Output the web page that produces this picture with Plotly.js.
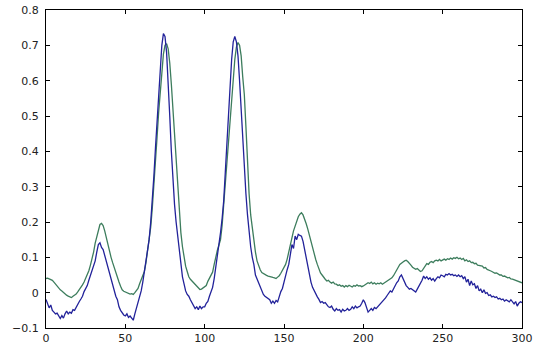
<!DOCTYPE html>
<html>
<head>
<meta charset="utf-8">
<script src="https://cdn.plot.ly/plotly-3.0.1.min.js"></script>
<style>
html,body{margin:0;padding:0;background:#fff;}
#chart{width:533px;height:347px;}
</style>
</head>
<body>
<div id="chart"></div>
<script>
// Series values at x = 0..300 (index)
var blueSeries = [
-0.019,-0.03,-0.043,-0.035,-0.05,-0.055,-0.06,-0.058,-0.068,-0.073,
-0.065,-0.072,-0.06,-0.052,-0.06,-0.055,-0.058,-0.048,-0.05,-0.04,
-0.033,-0.025,-0.018,-0.01,0.003,0.01,0.02,0.035,0.05,0.06,
0.075,0.09,0.115,0.136,0.141,0.128,0.122,0.105,0.09,0.072,
0.056,0.04,0.025,0.01,-0.01,-0.02,-0.04,-0.05,-0.058,-0.063,
-0.066,-0.06,-0.07,-0.066,-0.072,-0.078,-0.06,-0.045,-0.03,-0.012,
0.005,0.03,0.06,0.09,0.12,0.15,0.2,0.26,0.33,0.41,
0.49,0.56,0.64,0.70,0.733,0.725,0.68,0.60,0.50,0.40,
0.32,0.25,0.2,0.16,0.12,0.08,0.045,0.025,0.005,-0.005,
-0.01,-0.02,-0.03,-0.035,-0.045,-0.04,-0.048,-0.038,-0.045,-0.04,
-0.04,-0.03,-0.025,-0.01,0.0,0.015,0.04,0.07,0.1,0.14,
0.17,0.21,0.26,0.34,0.43,0.52,0.60,0.66,0.71,0.725,
0.71,0.67,0.60,0.51,0.42,0.34,0.28,0.22,0.17,0.13,
0.10,0.08,0.05,0.038,0.025,0.015,0.005,-0.005,-0.01,-0.014,
-0.018,-0.02,-0.03,-0.024,-0.03,-0.022,-0.026,-0.01,0.003,0.012,
0.033,0.05,0.065,0.08,0.11,0.136,0.125,0.16,0.15,0.165,
0.162,0.16,0.145,0.12,0.1,0.075,0.05,0.03,0.015,0.005,
0.0,-0.012,-0.019,-0.028,-0.025,-0.03,-0.028,-0.035,-0.04,-0.042,
-0.038,-0.047,-0.052,-0.045,-0.05,-0.048,-0.055,-0.047,-0.052,-0.05,
-0.045,-0.05,-0.047,-0.04,-0.045,-0.038,-0.043,-0.04,-0.038,-0.03,
-0.02,-0.028,-0.045,-0.055,-0.05,-0.045,-0.05,-0.042,-0.045,-0.04,
-0.036,-0.033,-0.028,-0.02,-0.015,-0.008,0.0,0.005,0.002,0.012,
0.02,0.028,0.033,0.045,0.05,0.04,0.025,0.02,0.015,0.01,
0.012,0.008,0.005,0.002,0.01,0.018,0.025,0.035,0.047,0.04,
0.045,0.038,0.042,0.035,0.04,0.033,0.04,0.045,0.042,0.05,
0.048,0.045,0.052,0.05,0.054,0.05,0.052,0.048,0.05,0.046,
0.05,0.045,0.048,0.04,0.045,0.03,0.038,0.02,0.033,0.022,
0.025,0.012,0.02,0.005,0.01,0.0,0.008,-0.002,0.0,-0.008,
-0.006,-0.012,-0.01,-0.014,-0.012,-0.018,-0.016,-0.02,-0.018,-0.024,
-0.02,-0.022,-0.026,-0.02,-0.028,-0.032,-0.025,-0.038,-0.03,-0.026,-0.028
];
var greenSeries = [
0.04,0.041,0.039,0.038,0.035,0.03,0.024,0.019,0.014,0.008,
0.005,0.0,-0.004,-0.007,-0.01,-0.013,-0.014,-0.01,-0.007,-0.004,
0.002,0.008,0.014,0.022,0.03,0.04,0.05,0.062,0.078,0.095,
0.115,0.14,0.16,0.18,0.193,0.196,0.19,0.175,0.155,0.135,
0.12,0.1,0.085,0.07,0.055,0.042,0.03,0.018,0.008,0.004,
0.002,0.0,-0.002,-0.004,-0.003,-0.005,0.0,0.006,0.012,0.025,
0.035,0.045,0.06,0.085,0.115,0.145,0.185,0.24,0.30,0.37,
0.44,0.51,0.57,0.63,0.675,0.70,0.705,0.69,0.65,0.59,
0.52,0.43,0.35,0.28,0.22,0.17,0.13,0.10,0.075,0.06,
0.045,0.038,0.033,0.028,0.022,0.019,0.012,0.009,0.01,0.013,
0.015,0.02,0.032,0.042,0.05,0.058,0.08,0.105,0.12,0.135,
0.15,0.19,0.25,0.32,0.38,0.44,0.50,0.55,0.61,0.66,
0.695,0.708,0.70,0.67,0.61,0.56,0.47,0.37,0.28,0.22,
0.18,0.15,0.115,0.09,0.075,0.065,0.057,0.054,0.05,0.049,
0.047,0.045,0.045,0.043,0.042,0.04,0.044,0.048,0.055,0.062,
0.07,0.08,0.095,0.113,0.13,0.155,0.175,0.19,0.203,0.215,
0.222,0.226,0.22,0.21,0.195,0.18,0.162,0.145,0.125,0.108,
0.094,0.08,0.065,0.056,0.05,0.042,0.038,0.033,0.035,0.03,
0.027,0.03,0.025,0.024,0.02,0.022,0.018,0.02,0.016,0.02,
0.017,0.021,0.019,0.016,0.02,0.018,0.022,0.019,0.02,0.017,
0.019,0.022,0.025,0.028,0.026,0.03,0.025,0.028,0.024,0.027,
0.025,0.028,0.024,0.027,0.03,0.032,0.035,0.038,0.042,0.048,
0.055,0.062,0.072,0.08,0.085,0.087,0.09,0.092,0.088,0.084,
0.078,0.072,0.07,0.066,0.068,0.063,0.06,0.062,0.07,0.078,
0.082,0.08,0.086,0.088,0.085,0.09,0.092,0.09,0.094,0.09,
0.093,0.095,0.092,0.096,0.094,0.098,0.095,0.099,0.097,0.1,
0.096,0.098,0.094,0.097,0.09,0.093,0.088,0.09,0.085,0.086,
0.082,0.083,0.078,0.077,0.074,0.075,0.07,0.071,0.066,0.065,
0.062,0.06,0.058,0.055,0.056,0.052,0.05,0.05,0.046,0.047,
0.044,0.042,0.043,0.039,0.038,0.036,0.034,0.033,0.03,0.029,0.028
];
var xTicks = [0, 50, 100, 150, 200, 250, 300];
var yTicks = [-0.1, 0, 0.1, 0.2, 0.3, 0.4, 0.5, 0.6, 0.7, 0.8];

var traces = [
  {y: greenSeries, type: 'scatter', mode: 'lines', line: {color: '#3d7d5d', width: 1.3}, hoverinfo: 'skip'},
  {y: blueSeries, type: 'scatter', mode: 'lines', line: {color: '#22229a', width: 1.3}, hoverinfo: 'skip'}
];
var axisCommon = {
  showgrid: false, zeroline: false, showline: true, mirror: 'ticks',
  linecolor: '#000', linewidth: 1, ticks: 'inside', ticklen: 4, tickwidth: 1, tickcolor: '#000',
  tickfont: {family: 'DejaVu Sans, sans-serif', size: 11, color: '#222'}
};
var layout = {
  width: 533, height: 347,
  margin: {l: 46, r: 11, t: 10, b: 19, pad: 0},
  paper_bgcolor: '#fff', plot_bgcolor: '#fff',
  showlegend: false,
  xaxis: Object.assign({}, axisCommon, {range: [0, 300], tickvals: xTicks, ticktext: xTicks.map(String)}),
  yaxis: Object.assign({}, axisCommon, {range: [-0.1, 0.8], tickvals: yTicks, ticklabelstandoff: 4})
};
Plotly.newPlot('chart', traces, layout, {staticPlot: true, displayModeBar: false});
</script>
</body>
</html>
